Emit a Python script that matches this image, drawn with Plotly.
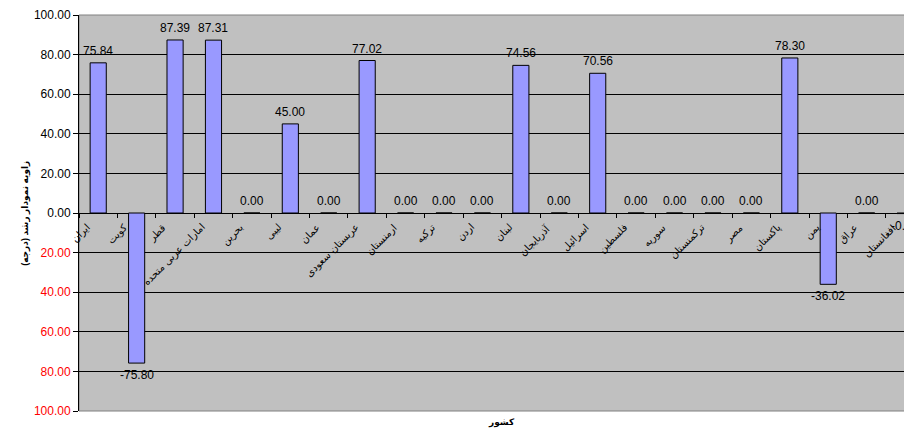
import plotly.graph_objects as go

# Data
negara = ['ایران', 'کویت', 'قطر', 'امارات عربی متحده', 'بحرین', 'لیبی', 'عمان',
          'عربستان سعودی', 'ارمنستان', 'ترکیه', 'اردن', 'لبنان', 'آذربایجان',
          'اسرائیل', 'فلسطین', 'سوریه', 'ترکمنستان', 'مصر', 'پاکستان', 'یمن',
          'عراق', 'افغانستان']
sudut = [75.84, -75.80, 87.39, 87.31, 0.00, 45.00, 0.00, 77.02, 0.00, 0.00,
         0.00, 74.56, 0.00, 70.56, 0.00, 0.00, 0.00, 0.00, 78.30, -36.02,
         0.00, -0.30]
y_ticks = [-100, -80, -60, -40, -20, 0, 20, 40, 60, 80, 100]

font_fam = 'Liberation Sans, Arial, DejaVu Sans, sans-serif'

# tick label: negatif merah tanpa tanda minus
y_text = []
for v in y_ticks:
    if v < 0:
        y_text.append(f"<span style='color:#ff0000'>{abs(v):.2f}</span>")
    else:
        y_text.append(f"{v:.2f}")

fig = go.Figure()

fig.add_trace(go.Bar(
    x=negara,
    y=sudut,
    width=0.42,
    marker=dict(color='#9999ff', line=dict(color='black', width=1)),
    hoverinfo='x+y',
))

# nama negara miring di garis nol
for nama in negara:
    fig.add_annotation(
        x=nama, y=0,
        text=nama,
        showarrow=False,
        textangle=-45,
        xanchor='right', yanchor='top',
        xshift=-4, yshift=-6,
        font=dict(size=10, color='black', family='DejaVu Sans, sans-serif'),
    )

# label nilai di atas / bawah batang
for nama, v in zip(negara, sudut):
    fig.add_annotation(
        x=nama, y=v,
        text=f"{v:.2f}",
        showarrow=False,
        yanchor='top' if v < 0 else 'bottom',
        yshift=-3 if v < 0 else 3,
        font=dict(size=12, color='black', family=font_fam),
    )

fig.update_layout(
    width=904,
    height=429,
    margin=dict(l=71, r=0, t=5, b=26),
    paper_bgcolor='white',
    plot_bgcolor='#c0c0c0',
    showlegend=False,
    font=dict(family=font_fam, color='black'),
    xaxis=dict(
        type='category',
        range=[-0.5, 21.18],
        anchor='free',
        position=0.5,
        tickson='boundaries',
        ticks='outside',
        ticklen=4,
        tickcolor='black',
        showticklabels=False,
        showgrid=False,
        showline=False,
        zeroline=False,
    ),
    yaxis=dict(
        range=[-100, 100],
        tickvals=y_ticks,
        ticktext=y_text,
        tickfont=dict(size=12, color='black'),
        ticklabeloverflow='allow',
        ticks='outside',
        ticklen=5,
        tickcolor='black',
        showgrid=True,
        gridcolor='black',
        gridwidth=1,
        zeroline=True,
        zerolinecolor='black',
        zerolinewidth=1,
        showline=True,
        linecolor='black',
        linewidth=1,
    ),
)

# bingkai area plot
fig.add_shape(type='rect', xref='paper', yref='paper', x0=0, x1=1, y0=0, y1=1,
              line=dict(color='#808080', width=1), layer='below')

# judul sumbu
fig.add_annotation(
    text='<b>زاویه نمودار رشد (درجه)</b>',
    xref='paper', yref='paper', x=-0.074, y=0.5,
    textangle=-90, showarrow=False,
    font=dict(size=9, color='black'),
)
fig.add_annotation(
    text='<b>کشور</b>',
    xref='paper', yref='paper', x=(502 - 79) / 833, y=-19 / 398,
    showarrow=False,
    font=dict(size=9, color='black'),
)

fig.write_html("out.html")
